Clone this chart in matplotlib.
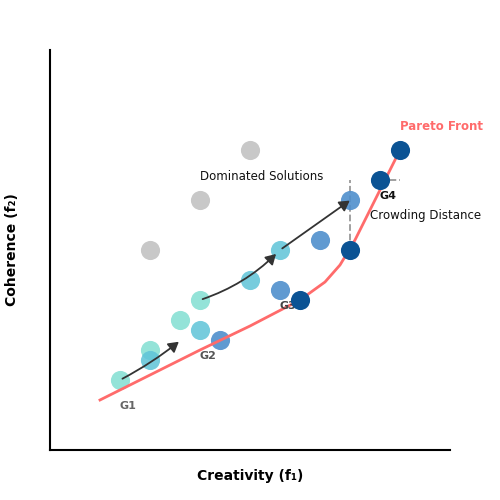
import matplotlib
matplotlib.use('Agg')
import matplotlib.pyplot as plt
from matplotlib.patches import FancyArrowPatch

# pixel-like data coordinates: x 0..400, y 0..400
light_x = [70, 100, 130, 150]
light_y = [70, 100, 130, 150]
teal_x = [100, 150, 200, 230]
teal_y = [90, 120, 170, 200]
blue_x = [170, 230, 270, 300]
blue_y = [110, 160, 210, 250]
dark_x = [250, 300, 330, 350]
dark_y = [150, 200, 270, 300]
grey_x = [100, 150, 200]
grey_y = [200, 250, 300]
pareto_x = [50, 100, 150, 200, 250, 275, 290, 305, 320, 335, 350]
pareto_y = [50, 75, 100, 124, 150, 168, 185, 210, 240, 270, 300]

fig = plt.figure(figsize=(5, 5), dpi=100)
ax = fig.add_axes([0.1, 0.1, 0.8, 0.8])
ax.set_xlim(0, 400)
ax.set_ylim(0, 400)

ax.scatter(grey_x, grey_y, s=190, color='#c8c8c8', zorder=2, linewidths=0)
ax.scatter(light_x, light_y, s=190, color='#88e0d4', alpha=0.9, zorder=2, linewidths=0)
ax.scatter(teal_x, teal_y, s=190, color='#5ec4d8', alpha=0.85, zorder=2, linewidths=0)
ax.scatter(blue_x, blue_y, s=190, color='#4f8fcc', alpha=0.9, zorder=2, linewidths=0)
ax.scatter(dark_x, dark_y, s=190, color='#0b5394', zorder=4, linewidths=0)
ax.plot(pareto_x, pareto_y, color='#ff6b6b', lw=2, zorder=3)

for (a, b, rad) in [((70, 70), (131, 110), 0.05),
                    ((150, 150), (228, 198), 0.12),
                    ((230, 200), (302, 251), 0.0)]:
    ax.add_patch(FancyArrowPatch(a, b, connectionstyle=f'arc3,rad={rad}',
                                 arrowstyle='-|>,head_length=6,head_width=3.5',
                                 color='#333333', lw=1.3, zorder=5))

ax.plot([300, 300], [200, 270], ls='--', color='#999999', lw=1.3, zorder=1)
ax.plot([330, 350], [270, 270], ls='--', color='#999999', lw=1.3, zorder=1)

ax.text(70, 44, 'G1', color='#666666', fontsize=8, ha='left', va='center', fontweight='bold')
ax.text(150, 94, 'G2', color='#555555', fontsize=8, ha='left', va='center', fontweight='bold')
ax.text(230, 144, 'G3', color='#444444', fontsize=8, ha='left', va='center', fontweight='bold')
ax.text(330, 254, 'G4', color='#111111', fontsize=8, ha='left', va='center', fontweight='bold')
ax.text(150, 274, 'Dominated Solutions', fontsize=8.5, color='#111111', ha='left', va='center')
ax.text(320, 234, 'Crowding Distance', fontsize=8.5, color='#111111', ha='left', va='center')
ax.text(350, 324, 'Pareto Front', fontsize=8.5, color='#ff6b6b', ha='left', va='center', fontweight='bold')

ax.set_xticks([])
ax.set_yticks([])
for s in ['top', 'right']:
    ax.spines[s].set_visible(False)
for s in ['left', 'bottom']:
    ax.spines[s].set_linewidth(1.5)
ax.set_xlabel('Creativity (f₁)', fontsize=10, fontweight='bold', labelpad=14)
ax.set_ylabel('Coherence (f₂)', fontsize=10, fontweight='bold', labelpad=22)

fig.savefig('out.png', dpi=100)
